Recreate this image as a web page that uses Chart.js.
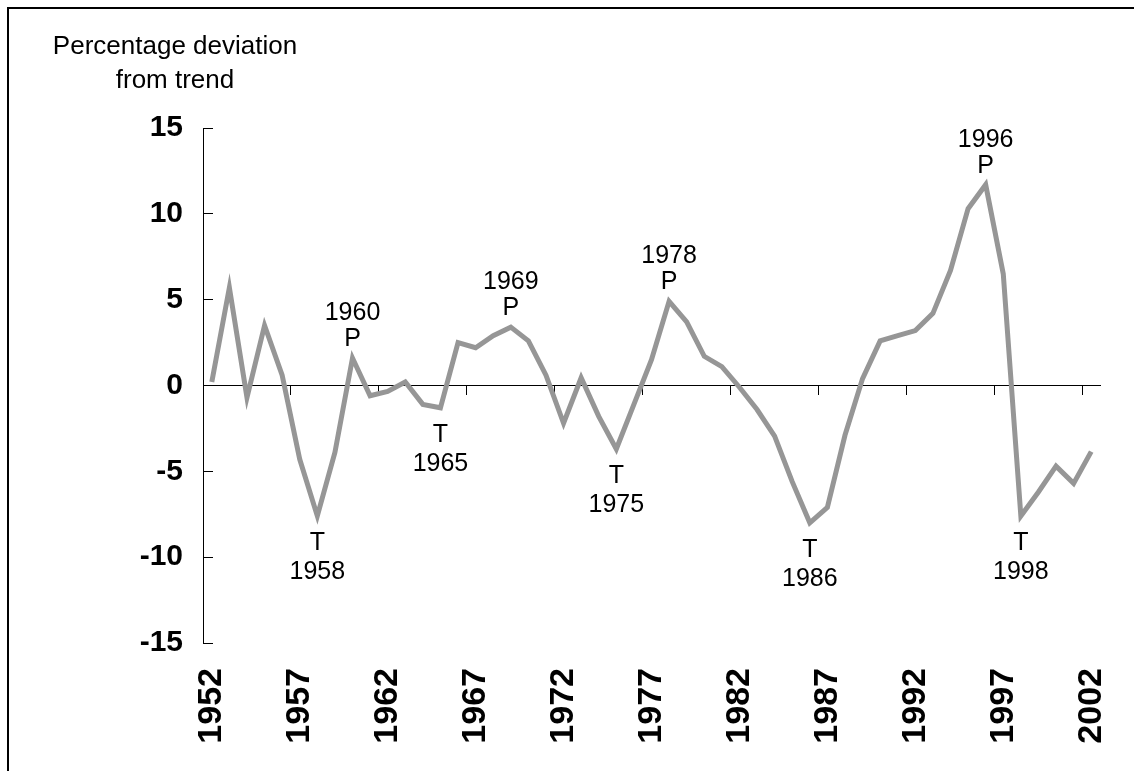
<!DOCTYPE html>
<html>
<head>
<meta charset="utf-8">
<script src="https://cdn.jsdelivr.net/npm/chart.js@4.4.1/dist/chart.umd.min.js"></script>
<style>
  html, body { margin: 0; padding: 0; background: #fff; }
  #frame { position: absolute; left: 7px; top: 7px; width: 1125px; height: 800px;
           border-top: 2px solid #000; border-left: 2px solid #000; }
  #chart { position: absolute; left: 0; top: 0; }
</style>
</head>
<body>
<div id="frame"></div>
<canvas id="chart" width="1140" height="771"></canvas>
<script>
// Data
const years = ['1952','1953','1954','1955','1956','1957','1958','1959','1960','1961',
  '1962','1963','1964','1965','1966','1967','1968','1969','1970','1971',
  '1972','1973','1974','1975','1976','1977','1978','1979','1980','1981',
  '1982','1983','1984','1985','1986','1987','1988','1989','1990','1991',
  '1992','1993','1994','1995','1996','1997','1998','1999','2000','2001','2002'];
const deviation = [0.2, 5.7, -0.7, 3.5, 0.6, -4.3, -7.6, -3.9, 1.6, -0.6,
  -0.35, 0.2, -1.1, -1.3, 2.5, 2.2, 2.9, 3.4, 2.6, 0.6,
  -2.2, 0.45, -1.8, -3.7, -1.1, 1.5, 4.9, 3.7, 1.7, 1.1,
  -0.1, -1.4, -2.95, -5.6, -8.0, -7.1, -2.9, 0.4, 2.6, 2.9,
  3.2, 4.2, 6.7, 10.3, 11.7, 6.5, -7.6, -6.2, -4.7, -5.7, -3.85];
const peakYears = ['1960', '1969', '1978', '1996'];
const troughYears = ['1958', '1965', '1975', '1986', '1998'];
const yTicks = [-15, -10, -5, 0, 5, 10, 15];

const textFont = '25px "Liberation Sans", Arial, sans-serif';

// Peak / trough labels placed from the data through the scales
const turningPoints = {
  id: 'turningPoints',
  afterDatasetsDraw(chart) {
    const ctx = chart.ctx;
    const x = chart.scales.x, y = chart.scales.y;
    ctx.save();
    ctx.fillStyle = '#000';
    ctx.font = textFont;
    ctx.textAlign = 'center';
    peakYears.forEach(yr => {
      const i = years.indexOf(yr);
      const px = x.getPixelForValue(i), py = y.getPixelForValue(deviation[i]);
      ctx.textBaseline = 'alphabetic';
      ctx.fillText('P', px, py - 12);
      ctx.fillText(yr, px, py - 38);
    });
    troughYears.forEach(yr => {
      const i = years.indexOf(yr);
      const px = x.getPixelForValue(i), py = y.getPixelForValue(deviation[i]);
      ctx.textBaseline = 'top';
      ctx.fillText('T', px, py + 15);
      ctx.fillText(yr, px, py + 44);
    });
    ctx.restore();
  }
};

// Axis caption at the top left
const axisCaption = {
  id: 'axisCaption',
  afterDraw(chart) {
    const ctx = chart.ctx;
    ctx.save();
    ctx.fillStyle = '#000';
    ctx.font = '26px "Liberation Sans", Arial, sans-serif';
    ctx.textAlign = 'center';
    ctx.textBaseline = 'alphabetic';
    ctx.fillText('Percentage deviation', 175, 54);
    ctx.fillText('from trend', 175, 88);
    ctx.restore();
  }
};

const ctx = document.getElementById('chart').getContext('2d');
const chart = new Chart(ctx, {
  type: 'line',
  data: {
    labels: years,
    datasets: [{
      data: deviation,
      borderColor: '#969696',
      borderWidth: 5,
      pointRadius: 0,
      tension: 0,
      xAxisID: 'x',
      yAxisID: 'y'
    }]
  },
  options: {
    responsive: false,
    animation: false,
    devicePixelRatio: 1,
    layout: { padding: { top: 128, right: 40, left: 0, bottom: 0 } },
    plugins: {
      legend: { display: false },
      tooltip: { enabled: false }
    },
    scales: {
      x: {
        type: 'category',
        position: 'bottom',
        offset: true,
        grid: { display: false, drawTicks: false },
        border: { display: false },
        ticks: {
          autoSkip: false,
          maxRotation: 90,
          minRotation: 90,
          padding: 25,
          color: '#000',
          font: { family: '"Liberation Sans", Arial, sans-serif', size: 34, weight: 'bold' },
          callback: function(val, index) { return index % 5 === 0 ? years[index] : ''; }
        },
        afterFit: function(scale) {
          scale.height = 128;
          scale.paddingLeft = 0;
          scale.paddingRight = 0;
        }
      },
      x2: {
        type: 'category',
        position: { y: 0 },
        offset: true,
        grid: {
          offset: true,
          drawOnChartArea: false,
          drawTicks: true,
          tickLength: 9,
          tickWidth: 1,
          tickColor: c => (c.index > 0 && c.index % 5 === 0) ? '#000' : 'rgba(0,0,0,0)'
        },
        border: { display: true, color: '#000', width: 1 },
        ticks: { display: false, autoSkip: false }
      },
      y: {
        type: 'linear',
        position: 'left',
        min: -15,
        max: 15,
        afterBuildTicks: function(scale) { scale.ticks = yTicks.map(v => ({ value: v })); },
        grid: {
          drawOnChartArea: false,
          drawTicks: true,
          tickLength: -10,
          tickColor: '#000',
          tickWidth: 1
        },
        border: { display: true, color: '#000', width: 1 },
        ticks: {
          padding: 30,
          color: '#000',
          font: { family: '"Liberation Sans", Arial, sans-serif', size: 30, weight: 'bold' }
        },
        afterFit: function(scale) { scale.width = 203; }
      }
    }
  },
  plugins: [turningPoints, axisCaption]
});
</script>
</body>
</html>
